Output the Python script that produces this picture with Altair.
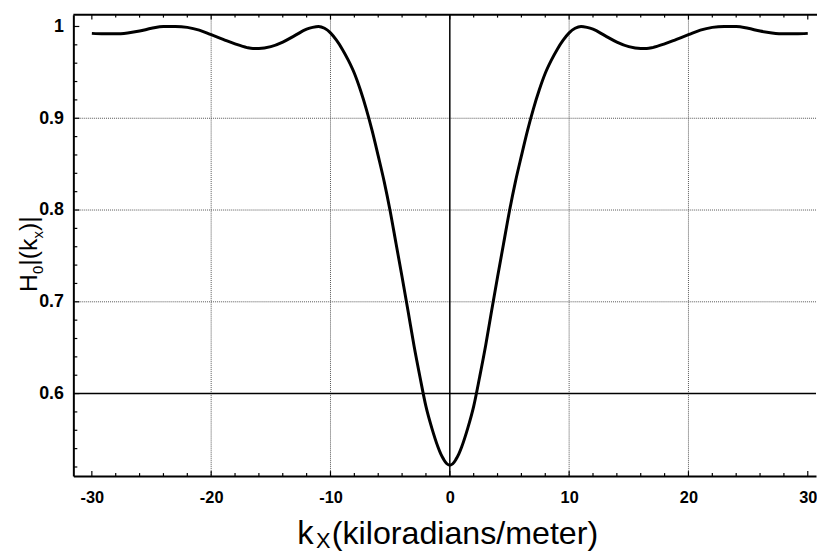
import altair as alt
import pandas as pd

# ---- data ----
kx = [-30, -29, -28, -27, -26, -25, -24, -23, -22, -21, -20, -19, -18, -17, -16.5, -16, -15, -14, -13, -12,
      -11.5, -11, -10.5, -10, -9.5, -9, -8.5, -8, -7.5, -7, -6.5, -6, -5.5, -5, -4.5, -4, -3.5, -3, -2.5, -2,
      -1.5, -1, -0.75, -0.5, -0.25, 0, 0.25, 0.5, 0.75, 1, 1.5, 2, 2.5, 3, 3.5, 4, 4.5, 5, 5.5, 6, 6.5, 7,
      7.5, 8, 8.5, 9, 9.5, 10, 10.5, 11, 11.5, 12, 13, 14, 15, 16, 16.5, 17, 18, 19, 20, 21, 22, 23, 24, 25,
      26, 27, 28, 29, 30]
h0 = [0.9925, 0.992, 0.992, 0.993, 0.995, 0.998, 1.000, 1.000, 0.999, 0.996, 0.991, 0.986, 0.981, 0.977, 0.976,
      0.976, 0.978, 0.983, 0.990, 0.997, 0.999, 1.000, 0.998, 0.993, 0.985, 0.975, 0.963, 0.949, 0.931, 0.910,
      0.886, 0.859, 0.831, 0.799, 0.763, 0.727, 0.690, 0.652, 0.618, 0.586, 0.562, 0.542, 0.534, 0.528, 0.5235,
      0.522,
      0.5235, 0.528, 0.534, 0.542, 0.562, 0.586, 0.618, 0.652, 0.690, 0.727, 0.763, 0.799, 0.831, 0.859, 0.886,
      0.910, 0.931, 0.949, 0.963, 0.975, 0.985, 0.993, 0.998, 1.000, 0.999, 0.997, 0.990, 0.983, 0.978, 0.976,
      0.976, 0.977, 0.981, 0.986, 0.991, 0.996, 0.999, 1.000, 1.000, 0.998, 0.995, 0.993, 0.992, 0.992, 0.9925]

x_major = [-30, -20, -10, 0, 10, 20, 30]
x_minor = [-28, -26, -24, -22, -18, -16, -14, -12, -8, -6, -4, -2, 2, 4, 6, 8, 12, 14, 16, 18, 22, 24, 26, 28]
y_major = [0.6, 0.7, 0.8, 0.9, 1.0]
y_minor = [0.52, 0.54, 0.56, 0.58, 0.62, 0.64, 0.66, 0.68, 0.72, 0.74, 0.76, 0.78,
           0.82, 0.84, 0.86, 0.88, 0.92, 0.94, 0.96, 0.98]
grid_x = [-20, -10, 10, 20]
grid_y = [0.7, 0.8, 0.9]
zero_x = [0]
zero_y = [0.6]

x_title = ["k", "X", "(kiloradians/meter)"]
y_title = ["H", "0", "|(k", "x", ")|"]

# ---- layout ----
W, H = 750, 466
LABEL_FONT = "Liberation Sans"
TITLE_FONT = "Liberation Sans"

xs = alt.Scale(domain=[-31.55, 30.69], nice=False, zero=False)
ys = alt.Scale(domain=[0.5101, 1.0129], nice=False, zero=False)

curve_df = pd.DataFrame({"kx": kx, "h": h0})

x_axis = alt.Axis(values=x_major, ticks=False, grid=False, domainColor="black", domainWidth=2,
                  labelFont=LABEL_FONT, labelFontSize=16.5, labelFontWeight="bold", labelColor="black",
                  labelPadding=14, title=None, labelExpr="'' + datum.value")
y_axis = alt.Axis(values=y_major, ticks=False, grid=False, domainColor="black", domainWidth=2,
                  labelFont=LABEL_FONT, labelFontSize=18, labelFontWeight="bold", labelColor="black",
                  labelPadding=10, title=None, labelExpr="format(datum.value, '~g')")


def vrule(vals, **style):
    return alt.Chart(pd.DataFrame({"v": vals})).mark_rule(**style).encode(
        x=alt.X("v:Q", scale=xs, axis=x_axis))


def hrule(vals, **style):
    return alt.Chart(pd.DataFrame({"v": vals})).mark_rule(**style).encode(
        y=alt.Y("v:Q", scale=ys, axis=y_axis))


grid_v = vrule(grid_x, color="#555555", strokeWidth=1, strokeDash=[1, 1])
grid_h = hrule(grid_y, color="#555555", strokeWidth=1, strokeDash=[1, 1])
zero_v = vrule(zero_x, color="black", strokeWidth=1.5)
zero_h = hrule(zero_y, color="black", strokeWidth=1.5)

curve = alt.Chart(curve_df).mark_line(color="black", strokeWidth=3, interpolate="monotone").encode(
    x=alt.X("kx:Q", scale=xs, axis=x_axis),
    y=alt.Y("h:Q", scale=ys, axis=y_axis),
)


def xticks(vals, length, top):
    y1, y2 = (0, length) if top else (H, H - length)
    return alt.Chart(pd.DataFrame({"v": vals})).mark_rule(color="black", strokeWidth=1.2).encode(
        x=alt.X("v:Q", scale=xs, axis=x_axis), y=alt.value(y1), y2=alt.value(y2))


def yticks(vals, length):
    return alt.Chart(pd.DataFrame({"v": vals})).mark_rule(color="black", strokeWidth=1.2).encode(
        y=alt.Y("v:Q", scale=ys, axis=y_axis), x=alt.value(0), x2=alt.value(length))


top_border = alt.Chart(pd.DataFrame({"v": [0]})).mark_rule(color="black", strokeWidth=2).encode(
    x=alt.value(0), x2=alt.value(W + 1), y=alt.value(0))

# axis titles as text pieces (with subscripts)
xt = pd.DataFrame({"t": x_title, "px": [226, 245, 261], "py": [535, 539, 535], "fs": [33, 22, 32.5]})
x_title_layer = alt.Chart(xt).mark_text(align="left", baseline="alphabetic", font=TITLE_FONT,
                                          color="black").encode(
    text="t:N", x=alt.X("px:Q", scale=None), y=alt.Y("py:Q", scale=None),
    size=alt.Size("fs:Q", scale=None, legend=None))

yt = pd.DataFrame({"t": y_title, "px": [-37, -31, -37, -31, -37], "py": [280, 262, 253.5, 226, 218.5],
                   "fs": [25, 15, 25, 15, 25]})
y_title_layer = alt.Chart(yt).mark_text(align="left", baseline="alphabetic", font=TITLE_FONT, angle=270,
                                          color="black").encode(
    text="t:N", x=alt.X("px:Q", scale=None), y=alt.Y("py:Q", scale=None),
    size=alt.Size("fs:Q", scale=None, legend=None))

chart = alt.layer(
    grid_v, grid_h, zero_v, zero_h,
    xticks(x_major, 5, False), xticks(x_minor, 3, False),
    xticks(x_major, 5, True), xticks(x_minor, 3, True),
    yticks(y_major, 6), yticks(y_minor, 4),
    top_border, curve, x_title_layer, y_title_layer,
).properties(
    width=W, height=H,
    autosize=alt.AutoSizeParams(type="none"),
    padding={"left": 66, "top": 4, "right": 1, "bottom": 77},
    background="white",
).configure_view(stroke=None)

chart.save("out.html", embed_options={"renderer": "svg", "actions": False})
